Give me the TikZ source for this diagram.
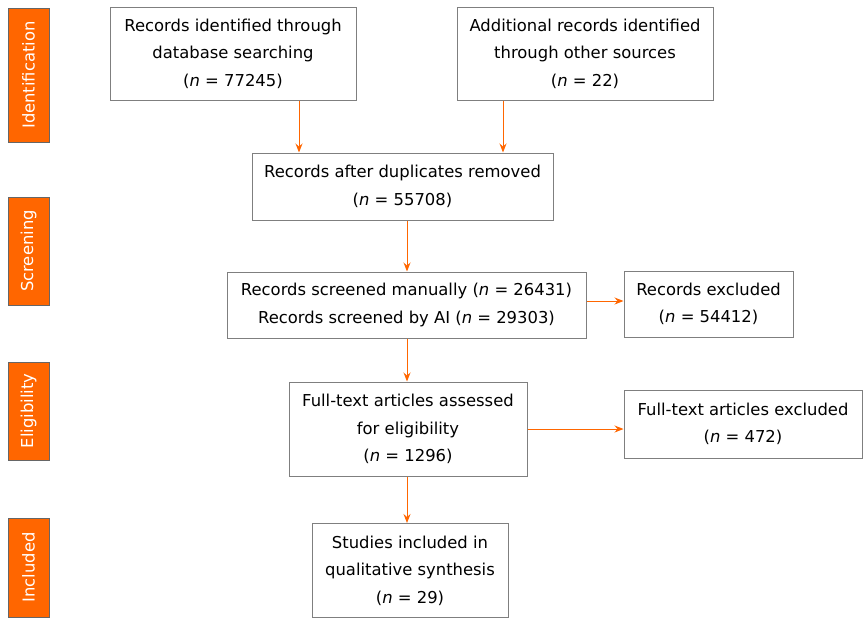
\documentclass[tikz,border=0pt]{standalone}
\usepackage{fontspec}
\setmainfont{DejaVu Sans}
\usepackage{tikz}
\usetikzlibrary{arrows.meta}
\definecolor{prisma}{HTML}{FF6600}
\definecolor{frame}{HTML}{7F7F7F}

\begin{document}
\begin{tikzpicture}[x=1pt, y=-1pt, >={Stealth[length=9pt, width=7pt, inset=3pt]},
  every node/.style={font=\fontsize{16.4}{27.5}\selectfont, align=center, inner sep=0pt},
  box/.style={draw=frame, line width=1pt},
  phase/.style={fill=prisma, draw=black!60, text=white, rotate=90, minimum height=41pt},
  flow/.style={->, draw=prisma, line width=1pt}]
 \useasboundingbox (0,0) rectangle (866,619);
 % phases
 \node (ident) [phase, minimum width=134pt] at (28.5,75) {Identification};
 \node (screen) [phase, minimum width=108pt] at (28.5,251) {Screening};
 \node (elig) [phase, minimum width=98pt] at (28.5,411) {Eligibility};
 \node (incl) [phase, minimum width=99pt] at (28.5,567.5) {Included};
 % boxes
 \node (db) [box, minimum width=246pt, minimum height=93pt] at (233,53.5)
  {Records identified through\\database searching\\(\textit{n} = 77245)};
 \node (other) [box, minimum width=256pt, minimum height=93pt] at (585,53.5)
  {Additional records identified\\through other sources\\(\textit{n} = 22)};
 \node (dup) [box, minimum width=301pt, minimum height=67pt] at (402.5,186.5)
  {Records after duplicates removed\\(\textit{n} = 55708)};
 \node (scr) [box, minimum width=359pt, minimum height=66pt] at (406.5,305)
  {Records screened manually (\textit{n} = 26431)\\Records screened by AI (\textit{n} = 29303)};
 \node (excl) [box, minimum width=169pt, minimum height=66pt] at (708.5,304)
  {Records excluded\\(\textit{n} = 54412)};
 \node (full) [box, minimum width=238pt, minimum height=94pt] at (408,429)
  {Full-text articles assessed\\for eligibility\\(\textit{n} = 1296)};
 \node (fullex) [box, minimum width=238pt, minimum height=68pt] at (743,424)
  {Full-text articles excluded\\(\textit{n} = 472)};
 \node (incd) [box, minimum width=196pt, minimum height=94pt] at (410,570.5)
  {Studies included in\\qualitative synthesis\\(\textit{n} = 29)};
 % arrows
 \path
  (db.south -| 299,0) edge[flow] (dup.north -| 299,0)
  (other.south -| 503,0) edge[flow] (dup.north -| 503,0)
  (dup.south -| 407,0) edge[flow] (scr.north -| 407,0)
  (scr.east |- 0,301) edge[flow] (excl.west |- 0,301)
  (scr.south -| 407,0) edge[flow] (full.north -| 407,0)
  (full.east |- 0,429) edge[flow] (fullex.west |- 0,429)
  (full.south -| 407,0) edge[flow] (incd.north -| 407,0);
\end{tikzpicture}
\end{document}
